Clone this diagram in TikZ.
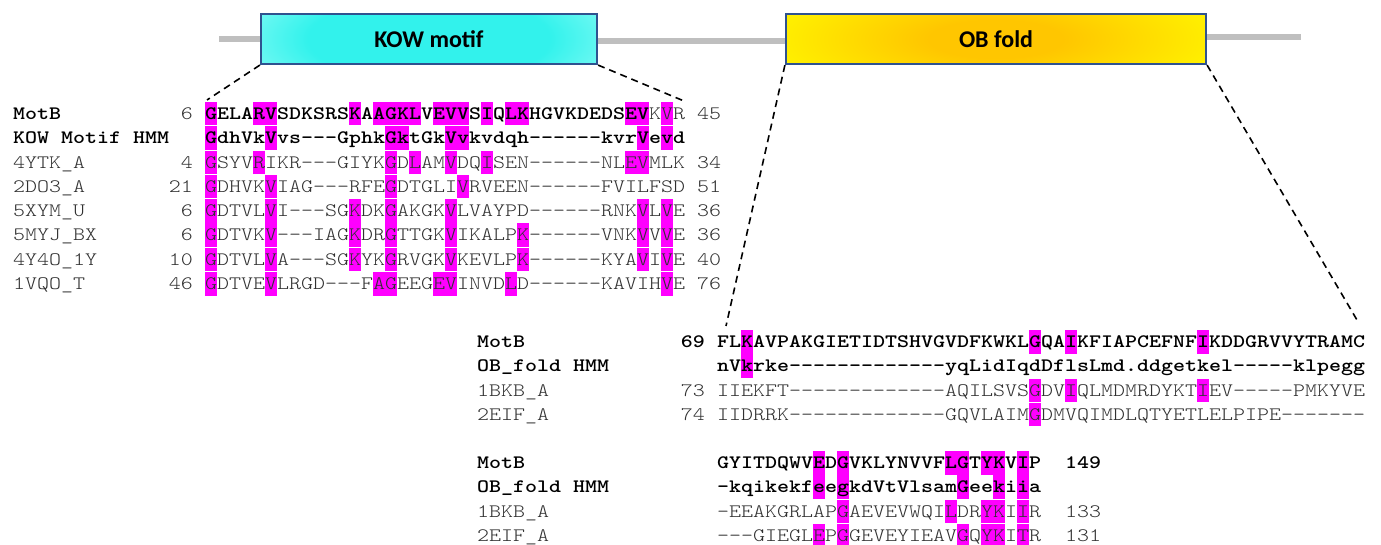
\documentclass[tikz,border=0pt]{standalone}
\usepackage{fontspec}
\setmainfont{Liberation Sans}
\setmonofont{lmmonolt10-regular.otf}[BoldFont=lmmonolt10-bold.otf, FakeStretch=1.2030]
\newfontfamily\boxfont{Carlito}
\definecolor{hlmag}{RGB}{255,0,255}
\definecolor{seqgrey}{RGB}{48,48,48}
\definecolor{bargrey}{RGB}{191,191,191}
\definecolor{boxblue}{RGB}{47,82,143}
\definecolor{kowc}{RGB}{50,242,236}
\definecolor{kowl}{RGB}{180,255,250}
\definecolor{obc}{RGB}{255,198,0}
\definecolor{oby}{RGB}{255,248,0}
\definecolor{obw}{RGB}{255,255,190}
\pgfdeclareradialshading{kowshade}{\pgfpoint{0bp}{0bp}}{color(0bp)=(kowc); color(18bp)=(kowc); color(38bp)=(kowl); color(47bp)=(white); color(50bp)=(white)}
\pgfdeclareradialshading{obshade}{\pgfpoint{0bp}{0bp}}{color(0bp)=(obc); color(8bp)=(obc); color(30bp)=(oby); color(48bp)=(oby); color(50bp)=(obw)}
\newcommand\hlcells[3]{\foreach \cc in {#3}{\fill[hlmag] ({#1+12*\cc},{#2}) rectangle ++(12,23.5);}}
\tikzset{
  seqtxt/.style={inner sep=0pt, anchor=base west, text=seqgrey, font=\ttfamily\fontsize{19}{24}\selectfont},
  seqbold/.style={seqtxt, text=black, font=\ttfamily\bfseries\fontsize{19}{24}\selectfont},
  numtxt/.style={seqtxt, anchor=base east},
  numbold/.style={seqbold, anchor=base east},
  dombox/.style={draw=boxblue, line width=2.2pt, minimum width=#1, minimum height=50pt, inner sep=0pt,
     font=\boxfont\bfseries\fontsize{24}{28}\selectfont, text=black},
  greybar/.style={draw=bargrey, line width=6.5pt},
  zoomline/.style={draw=black, line width=1.6pt, dash pattern=on 7pt off 5pt}
}
\begin{document}
\begin{tikzpicture}[x=1pt,y=-1pt]
\useasboundingbox (0,0) rectangle (1381,545);
% ---------- domain diagram ----------
\coordinate (barL) at (219,39);
\coordinate (barR) at (1301,37);
\node[dombox=336pt] (kow) at (429,39) {};
\node[dombox=420pt] (ob) at (996,39) {};
\draw[greybar] (barL) -- (kow.west);
\draw[greybar] ([yshift=-2pt]kow.east) -- ([yshift=-2pt]ob.west);
\draw[greybar] ([yshift=2pt]ob.east) -- (barR);
\begin{scope}
  \clip (261,14) rectangle (597,64);
  \shade[shading=kowshade] (261,-21) rectangle (597,99);
\end{scope}
\begin{scope}
  \clip (786,14) rectangle (1206,64);
  \shade[shading=obshade] (786,-21) rectangle (1206,99);
\end{scope}
\node[dombox=336pt] (kowlab) at (429,39) {KOW motif};
\node[dombox=420pt] (oblab) at (996,39) {OB fold};
% ---------- zoom lines ----------
\coordinate (kowLend) at (207,100);
\coordinate (kowRend) at (684,101);
\coordinate (obLend) at (726,326);
\coordinate (obRend) at (1357,320);
\draw[zoomline] (kowlab.south west) -- (kowLend);
\draw[zoomline] (kowlab.south east) -- (kowRend);
\draw[zoomline] (oblab.south west) -- (obLend);
\draw[zoomline] (oblab.south east) -- (obRend);
% ---------- KOW alignment highlights ----------
\hlcells{205}{102.0}{0,4,5,12,14,15,16,17,19,20,21,23,25,26,35,36,38}
\hlcells{205}{126.3}{0,5,15,16,20,21,36,38}
\hlcells{205}{150.6}{0,4,15,17,20,23,35,36}
\hlcells{205}{174.9}{0,5,15,21}
\hlcells{205}{199.2}{0,5,12,15,20,36,38}
\hlcells{205}{223.5}{0,5,12,15,20,26,36,38}
\hlcells{205}{247.8}{0,5,12,15,20,26,36,38}
\hlcells{205}{272.1}{0,5,14,15,19,20,25,38}
% ---------- KOW alignment text ----------
\node[seqbold] (k0l) at (13,119.5) {MotB};
\node[numtxt]  (k0n) at (193,119.5) {6};
\node[seqbold] (k0s) at (205,119.5) {GELARVSDKSRSKAAGKLVEVVSIQLKHGVKDEDSEV\mdseries\color{seqgrey}KVR};
\node[seqtxt]  (k0e) at (697,119.5) {45};
\node[seqbold] (k1l) at (13,143.8) {KOW Motif HMM};
\node[seqbold] (k1s) at (205,143.8) {GdhVkVvs---GphkGktGkVvkvdqh------kvrVevd};
\node[seqtxt]  (k2l) at (13,168.1) {4YTK\_A};
\node[numtxt]  (k2n) at (193,168.1) {4};
\node[seqtxt]  (k2s) at (205,168.1) {GSYVRIKR---GIYKGDLAMVDQISEN------NLEVMLK};
\node[seqtxt]  (k2e) at (697,168.1) {34};
\node[seqtxt]  (k3l) at (13,192.4) {2DO3\_A};
\node[numtxt]  (k3n) at (193,192.4) {21};
\node[seqtxt]  (k3s) at (205,192.4) {GDHVKVIAG---RFEGDTGLIVRVEEN------FVILFSD};
\node[seqtxt]  (k3e) at (697,192.4) {51};
\node[seqtxt]  (k4l) at (13,216.7) {5XYM\_U};
\node[numtxt]  (k4n) at (193,216.7) {6};
\node[seqtxt]  (k4s) at (205,216.7) {GDTVLVI---SGKDKGAKGKVLVAYPD------RNKVLVE};
\node[seqtxt]  (k4e) at (697,216.7) {36};
\node[seqtxt]  (k5l) at (13,241.0) {5MYJ\_BX};
\node[numtxt]  (k5n) at (193,241.0) {6};
\node[seqtxt]  (k5s) at (205,241.0) {GDTVKV---IAGKDRGTTGKVIKALPK------VNKVVVE};
\node[seqtxt]  (k5e) at (697,241.0) {36};
\node[seqtxt]  (k6l) at (13,265.3) {4Y4O\_1Y};
\node[numtxt]  (k6n) at (193,265.3) {10};
\node[seqtxt]  (k6s) at (205,265.3) {GDTVLVA---SGKYKGRVGKVKEVLPK------KYAVIVE};
\node[seqtxt]  (k6e) at (697,265.3) {40};
\node[seqtxt]  (k7l) at (13,289.6) {1VQO\_T};
\node[numtxt]  (k7n) at (193,289.6) {46};
\node[seqtxt]  (k7s) at (205,289.6) {GDTVEVLRGD---FAGEEGEVINVDLD------KAVIHVE};
\node[seqtxt]  (k7e) at (697,289.6) {76};
% ---------- OB alignment part 1 ----------
\hlcells{717}{330.0}{2,26,29,40}
\hlcells{717}{354.3}{2}
\hlcells{717}{378.6}{26,29,40}
\hlcells{717}{402.9}{26}
\node[seqbold] (o0l) at (477,347.5) {MotB};
\node[numbold] (o0n) at (705,347.5) {69};
\node[seqbold] (o0s) at (717,347.5) {FLKAVPAKGIETIDTSHVGVDFKWKLGQAIKFIAPCEFNFIKDDGRVVYTRAMC};
\node[seqbold] (o1l) at (477,371.8) {OB\_fold HMM};
\node[seqbold] (o1s) at (717,371.8) {nVkrke-------------yqLidIqdDflsLmd.ddgetkel-----klpegg};
\node[seqtxt]  (o2l) at (477,396.1) {1BKB\_A};
\node[numtxt]  (o2n) at (705,396.1) {73};
\node[seqtxt]  (o2s) at (717,396.1) {IIEKFT-------------AQILSVSGDVIQLMDMRDYKTIEV-----PMKYVE};
\node[seqtxt]  (o3l) at (477,420.4) {2EIF\_A};
\node[numtxt]  (o3n) at (705,420.4) {74};
\node[seqtxt]  (o3s) at (717,420.4) {IIDRRK-------------GQVLAIMGDMVQIMDLQTYETLELPIPE-------};
% ---------- OB alignment part 2 ----------
\hlcells{717}{451.0}{8,10,19,20,22,23,25}
\hlcells{717}{475.3}{8,10,20,23,25}
\hlcells{717}{499.6}{10,19,22,23,25}
\hlcells{717}{523.9}{8,10,20,22,23,25}
\node[seqbold] (p0l) at (477,468.5) {MotB};
\node[seqbold] (p0s) at (717,468.5) {GYITDQWVEDGVKLYNVVFLGTYKVIP};
\node[seqbold] (p0e) at (1065,468.5) {149};
\node[seqbold] (p1l) at (477,492.8) {OB\_fold HMM};
\node[seqbold] (p1s) at (717,492.8) {-kqikekfeegkdVtVlsamGeekiia};
\node[seqtxt]  (p2l) at (477,517.1) {1BKB\_A};
\node[seqtxt]  (p2s) at (717,517.1) {-EEAKGRLAPGAEVEVWQILDRYKIIR};
\node[seqtxt]  (p2e) at (1065,517.1) {133};
\node[seqtxt]  (p3l) at (477,541.4) {2EIF\_A};
\node[seqtxt]  (p3s) at (717,541.4) {---GIEGLEPGGEVEYIEAVGQYKITR};
\node[seqtxt]  (p3e) at (1065,541.4) {131};
\end{tikzpicture}
\end{document}
